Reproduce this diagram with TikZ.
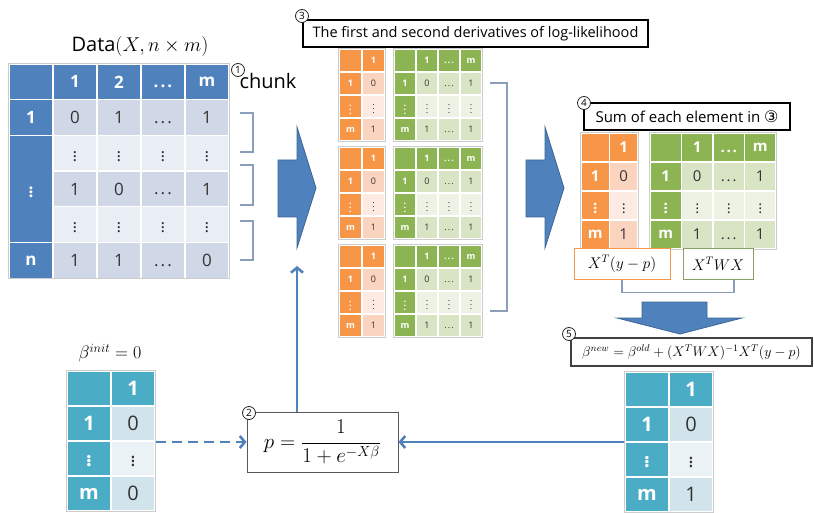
\documentclass[tikz,border=0pt]{standalone}
\usepackage{fix-cm}
\usepackage{fontspec}
\setmainfont{Open Sans}
\newfontfamily\symfont{DejaVu Sans}
\usetikzlibrary{arrows.meta}

\definecolor{bluehd}{HTML}{4F81BD}
\definecolor{bluedk}{HTML}{D0D8E8}
\definecolor{bluelt}{HTML}{E9EDF4}
\definecolor{orghd}{HTML}{F79646}
\definecolor{orgdk}{HTML}{FBD4C0}
\definecolor{orglt}{HTML}{FDEAE2}
\definecolor{grnhd}{HTML}{8DB453}
\definecolor{grndk}{HTML}{D8E4C4}
\definecolor{grnlt}{HTML}{EDF2E4}
\definecolor{tealhd}{HTML}{4BACC6}
\definecolor{tealdk}{HTML}{D2E4EB}
\definecolor{teallt}{HTML}{EAF2F6}
\definecolor{arrowblue}{HTML}{4F81BD}
\definecolor{arrowedge}{HTML}{3C6696}
\definecolor{brkcol}{HTML}{8A9DBA}

\newcommand{\tdots}{\vphantom{0}.\kern0.12em.\kern0.12em.}

% table: name, left, top, cell width, cell height, text style, rows
\newcommand{\mktable}[7]{%
  \foreach \row [count=\ri from 0] in {#7} {
    \foreach \txt [count=\ci from 0] in \row {
      \ifnum\ri=0 \def\sty{hdcell}\else
        \ifnum\ci=0 \def\sty{hdcell}\else
          \ifodd\ri \def\sty{dkcell}\else \def\sty{ltcell}\fi
        \fi
      \fi
      \node[\sty, minimum width=#4, minimum height=#5, #6] (#1-\ri-\ci)
        at ({#2+(\ci+0.5)*#4}, {#3+(\ri+0.5)*#5}) {\txt};
    }
  }%
}

\begin{document}
\begin{tikzpicture}[x=1pt, y=-1pt,
    cell/.style={draw=white, line width=1.2pt, inner sep=0pt, text=black!80},
    hdcell/.style={cell, fill=hd, text=white, execute at begin node=\bfseries},
    dkcell/.style={cell, fill=dk},
    ltcell/.style={cell, fill=lt},
    bigtxt/.style={font=\fontsize{17}{20}\selectfont},
    midtxt/.style={font=\fontsize{15}{18}\selectfont},
    betatxt/.style={font=\fontsize{20}{24}\selectfont},
    smalltxt/.style={font=\fontsize{9}{10}\selectfont},
    tframe/.style={draw=black!20, line width=0.8pt},
    circnum/.style={circle, draw=black!85, fill=white, line width=0.8pt, minimum size=13,
      inner sep=0pt, font=\fontsize{10}{10}\selectfont},
    titlebox/.style={draw=black, line width=1.6pt, inner sep=0pt, font=\fontsize{14.5}{16}\selectfont},
    bigarrow/.style={fill=arrowblue, draw=arrowedge, line width=0.8pt, line join=miter},
    link/.style={draw=arrowblue, line width=2.6pt, -{Straight Barb[length=5pt, width=12pt]}},
    brk/.style={draw=brkcol, line width=1.3pt}]
  \useasboundingbox (0,0) rectangle (814,513);

  % 1. data and chunks
  \node[font=\fontsize{20}{24}\selectfont] (datatitle) at (140,47) {Data$(X,n\times m)$};
  \colorlet{hd}{bluehd}\colorlet{dk}{bluedk}\colorlet{lt}{bluelt}
  \mktable{dt}{9}{64}{44}{35.7}{bigtxt}{%
    {{},1,2,\tdots,m},%
    {1,0,1,\tdots,1},%
    {{},$\vdots$,$\vdots$,$\vdots$,$\vdots$},%
    {{},1,0,\tdots,1},%
    {{},$\vdots$,$\vdots$,$\vdots$,$\vdots$},%
    {n,1,1,\tdots,0}}
  \node[hdcell, minimum width=44, minimum height=107.1, bigtxt] (dtlab) at (31,189.05) {$\vdots$};
  \draw[tframe] (dt-0-0.north west) rectangle (dt-5-4.south east);
  \node[circnum] (n1) at (238,70) {1};
  \node[font=\fontsize{20}{24}\selectfont] (chunk) at (268,81) {chunk};
  \foreach \ya/\yb in {113/152, 165/205, 221/260}
    \draw[brk] (240,\ya) -- (253,\ya) -- (253,\yb) -- (240,\yb);

  \foreach \dx in {0,248}
    \draw[bigarrow, xshift=\dx] (278,160) -- (297,160) -- (297,127) -- (316,188)
      -- (297,248) -- (297,217) -- (278,217) -- cycle;

  % 3. derivatives per chunk
  \node[titlebox, minimum width=345, minimum height=27] (t3) at (475.5,33.5)
    {The first and second derivatives of log-likelihood};
  \node[circnum] (n3) at (302,16) {3};
  \foreach \k in {0,1,2} {
    \colorlet{hd}{orghd}\colorlet{dk}{orgdk}\colorlet{lt}{orglt}
    \mktable{o\k}{339}{49+98*\k}{23}{23}{smalltxt}{{{},1},{1,0},{$\vdots$,$\vdots$},{m,1}}
    \draw[tframe] (o\k-0-0.north west) rectangle (o\k-3-1.south east);
    \colorlet{hd}{grnhd}\colorlet{dk}{grndk}\colorlet{lt}{grnlt}
    \mktable{g\k}{394}{49+98*\k}{22}{23}{smalltxt}{%
      {{},1,\tdots,m},{1,0,\tdots,1},{$\vdots$,$\vdots$,$\vdots$,$\vdots$},{m,1,\tdots,1}}
    \draw[tframe] (g\k-0-0.north west) rectangle (g\k-3-3.south east);
  }
  \draw[brk] (490,83) -- (507,83) -- (507,311) -- (490,311);

  % 4. sums
  \node[titlebox, font=\fontsize{15}{17}\selectfont, minimum width=206, minimum height=27] (t4) at (687,116.5)
    {Sum of each element in {\symfont\fontsize{16}{17}\selectfont ③}};
  \node[circnum] (n4) at (584,103) {4};
  \colorlet{hd}{orghd}\colorlet{dk}{orgdk}\colorlet{lt}{orglt}
  \mktable{os}{581}{133}{28.5}{29}{midtxt}{{{},1},{1,0},{$\vdots$,$\vdots$},{m,1}}
  \draw[tframe] (os-0-0.north west) rectangle (os-3-1.south east);
  \colorlet{hd}{grnhd}\colorlet{dk}{grndk}\colorlet{lt}{grnlt}
  \mktable{gs}{650}{133}{31.5}{29}{midtxt}{%
    {{},1,\tdots,m},{1,0,\tdots,1},{$\vdots$,$\vdots$,$\vdots$,$\vdots$},{m,1,\tdots,1}}
  \draw[tframe] (gs-0-0.north west) rectangle (gs-3-3.south east);
  \node[draw=orghd, fill=white, line width=1pt, minimum width=96, minimum height=30,
    font=\fontsize{15.5}{18}\selectfont] (bxo) at (622,264) {$X^T(y-p)$};
  \node[draw=grnhd!60!gray, fill=white, line width=1pt, minimum width=70, minimum height=30,
    font=\fontsize{15.5}{18}\selectfont] (bxg) at (718,264) {$X^TWX$};
  \draw[brk] (bxo.south) -- ++(0,13) -| ([xshift=16]bxg.south);
  \draw[bigarrow] (642,302) -- (707,302) -- (707,318) -- (742,318) -- (680,334)
    -- (617,318) -- (642,318) -- cycle;

  % 5. update
  \node[draw=black!75, line width=1.2pt, minimum width=241, minimum height=28,
    font=\fontsize{14}{16}\selectfont] (t5) at (691.5,352)
    {$\beta^{new}=\beta^{old}+(X^TWX)^{-1}X^T(y-p)$};
  \node[circnum] (n5) at (569,334) {5};
  \colorlet{hd}{tealhd}\colorlet{dk}{tealdk}\colorlet{lt}{teallt}
  \mktable{bn}{625}{372}{44}{35}{betatxt}{{{},1},{1,0},{$\vdots$,$\vdots$},{m,1}}
  \draw[tframe] (bn-0-0.north west) rectangle (bn-3-1.south east);

  % 2. start and p
  \node[font=\fontsize{18}{20}\selectfont] (binit) at (110,353) {$\beta^{init}=0$};
  \mktable{bi}{67}{371}{44}{35}{betatxt}{{{},1},{1,0},{$\vdots$,$\vdots$},{m,0}}
  \draw[tframe] (bi-0-0.north west) rectangle (bi-3-1.south east);
  \node[draw=black!65, line width=1pt, minimum width=151, minimum height=60,
    font=\fontsize{21}{24}\selectfont] (pbox) at (322.5,442) {$p=\displaystyle\frac{1}{1+e^{-X\beta}}$};
  \node[circnum] (n2) at (249,413) {2};
  \coordinate (feed) at (297,266);

  \draw[link, dash pattern=on 10pt off 6pt] (pbox.west -| bi-1-1.east) -- (pbox.west);
  \draw[link] (pbox.east -| bn-1-0.west) -- (pbox.east);
  \draw[link] (pbox.north -| feed) -- (feed);
\end{tikzpicture}
\end{document}
